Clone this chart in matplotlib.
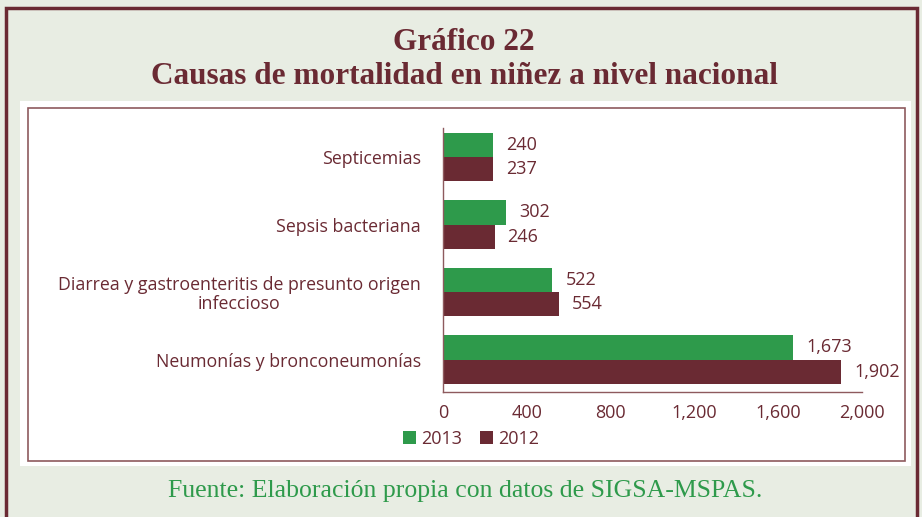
import matplotlib
matplotlib.use("Agg")
import matplotlib.pyplot as plt
from matplotlib.patches import Rectangle

causes = [
    "Septicemias",
    "Sepsis bacteriana",
    "Diarrea y gastroenteritis de presunto origen\ninfeccioso",
    "Neumonías y bronconeumonías",
]
deaths_2013 = [240, 302, 522, 1673]
deaths_2012 = [237, 246, 554, 1902]
x_ticks = [0, 400, 800, 1200, 1600, 2000]

GREEN = "#2E9A4B"
MAROON = "#6A2A33"
BG = "#E8EDE3"
SANS = ["Open Sans", "DejaVu Sans"]
SERIF = ["Liberation Serif", "DejaVu Serif"]
FS = 13

W, H = 922, 517
fig = plt.figure(figsize=(W / 100, H / 100), dpi=100)
fig.patch.set_facecolor(BG)


def px_rect(x0, y0, x1, y1, **kw):
    # rectangle given in image pixels (origin top-left)
    fig.patches.append(Rectangle((x0 / W, 1 - y1 / H), (x1 - x0) / W, (y1 - y0) / H,
                                 transform=fig.transFigure, figure=fig, zorder=-5, **kw))


px_rect(6, 8, 917, 530, facecolor="none", edgecolor=MAROON, lw=2.5)
px_rect(20, 101, 911, 466, facecolor="white", edgecolor="none")
px_rect(28, 108, 905, 461, facecolor="none", edgecolor="#8E5A5E", lw=1.2)

fig.text(464 / W, 1 - 43 / H, "Gráfico 22", ha="center", va="center",
         family=SERIF, fontsize=22.5, fontweight="bold", color=MAROON)
fig.text(464 / W, 1 - 76 / H, "Causas de mortalidad en niñez a nivel nacional",
         ha="center", va="center", family=SERIF, fontsize=22.5, fontweight="bold", color=MAROON)
fig.text(465 / W, 1 - 491 / H, "Fuente: Elaboración propia con datos de SIGSA-MSPAS.",
         ha="center", va="center", family=SERIF, fontsize=18.5, color="#2E9A4B")

ax = fig.add_axes([443 / W, 1 - 392 / H, (862 - 443) / W, (392 - 128) / H])
ax.set_zorder(2)
ax.set_facecolor("white")
pos = list(range(len(causes)))
h = 0.36
ax.barh([p - h / 2 for p in pos], deaths_2013, height=h, color=GREEN, label="2013")
ax.barh([p + h / 2 for p in pos], deaths_2012, height=h, color=MAROON, label="2012")

for p, v in zip(pos, deaths_2013):
    ax.text(v + 62, p - h / 2, f"{v:,}", va="center", ha="left",
            family=SANS, fontsize=FS, color=MAROON)
for p, v in zip(pos, deaths_2012):
    ax.text(v + 62, p + h / 2, f"{v:,}", va="center", ha="left",
            family=SANS, fontsize=FS, color=MAROON)

ax.set_xlim(0, 2000)
ax.set_ylim(3.48, -0.43)
ax.set_xticks(x_ticks)
ax.set_xticklabels([f"{t:,}" for t in x_ticks], family=SANS, fontsize=FS, color=MAROON)
ax.set_yticks(pos)
ax.set_yticklabels(causes, family=SANS, fontsize=12.8, color=MAROON, linespacing=1.05,
                   multialignment="center")
ax.tick_params(length=0, pad=9)
ax.tick_params(axis="y", pad=16)
for s in ["top", "right"]:
    ax.spines[s].set_visible(False)
for s in ["left", "bottom"]:
    ax.spines[s].set_color("#8E5A5E")
    ax.spines[s].set_linewidth(1.0)

leg = fig.legend(loc="center", bbox_to_anchor=(471 / W, 1 - 439 / H), ncol=2, frameon=False,
                 prop={"family": SANS, "size": FS}, handlelength=0.7, handleheight=0.7,
                 handletextpad=0.3, columnspacing=1.0)
for t in leg.get_texts():
    t.set_color(MAROON)

fig.savefig("out.png", dpi=100, facecolor=BG)
